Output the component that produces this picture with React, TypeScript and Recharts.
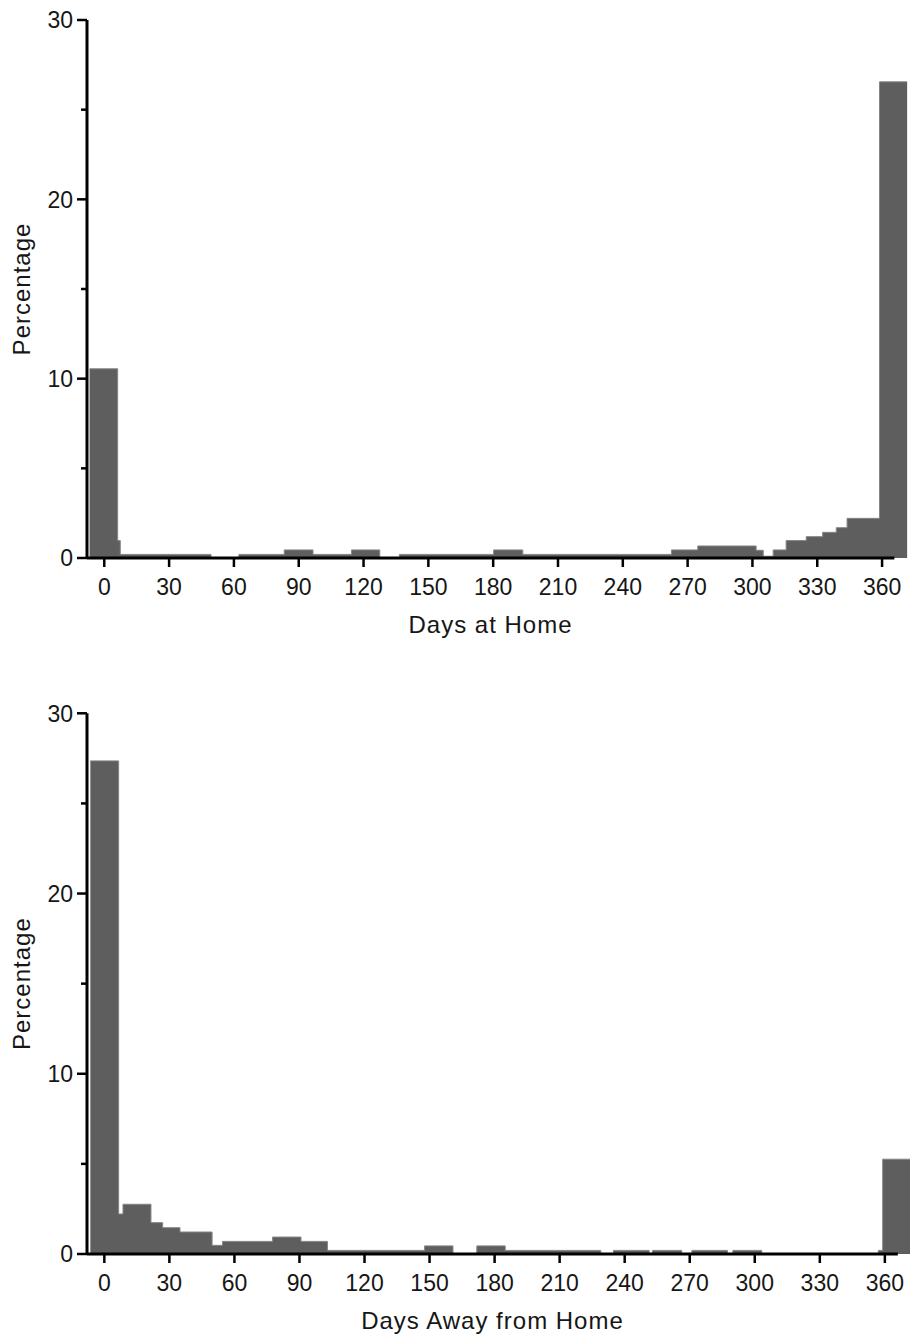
import { AreaChart, Area, XAxis, YAxis, ReferenceLine } from 'recharts';

// histogram steps: edges (days) and the percentage on each step
const homeEdges = [-6.8, 6.2, 7.4, 49.4, 62.3, 83.3, 96.6, 114.4, 127.5, 136.6, 180.2, 193.7, 262.5, 274.7, 301.7, 305, 309.6, 315.6, 324.9, 332.5, 338.8, 343.8, 358.8, 371.6];
const homePct = [10.55, 0.97, 0.2, 0, 0.2, 0.45, 0.2, 0.45, 0, 0.2, 0.45, 0.2, 0.45, 0.67, 0.43, 0.1, 0.45, 0.97, 1.19, 1.43, 1.69, 2.21, 26.55];

const awayEdges = [-6.45, 6.6, 8.6, 21.5, 26.9, 34.9, 49.7, 54.5, 77.6, 90.7, 102.9, 147.7, 160.8, 171.8, 184.9, 229, 234.8, 251.3, 252.8, 266.3, 271, 287.4, 289.9, 303.2, 357, 359, 371.6];
const awayPct = [27.36, 2.22, 2.76, 1.74, 1.46, 1.22, 0.48, 0.7, 0.94, 0.7, 0.2, 0.45, 0, 0.45, 0.2, 0, 0.2, 0, 0.2, 0, 0.2, 0, 0.2, 0, 0.2, 5.26];

const dayTicks = [0, 30, 60, 90, 120, 150, 180, 210, 240, 270, 300, 330, 360];
const pctTicks = [0, 5, 10, 15, 20, 25, 30];

const FONT = '"Liberation Sans", Arial, sans-serif';
const INK = '#161616';

const toSteps = (edges: number[], pct: number[]) =>
  edges.map((day, i) => ({ day, pct: pct[Math.min(i, pct.length - 1)] }));

const YTick = (props: any) => {
  const { x, y, payload } = props;
  const major = payload.value % 10 === 0;
  return (
    <g>
      <line x1={x - (major ? 10 : 6)} x2={x} y1={y} y2={y} stroke="#000" strokeWidth={2.5} />
      {major && (
        <text x={x - 14} y={y} dy="0.36em" textAnchor="end" fontSize={23} fontFamily={FONT} fill={INK}>
          {payload.value}
        </text>
      )}
    </g>
  );
};

const XTick = (props: any) => {
  const { x, y, payload } = props;
  return (
    <g>
      <line x1={x} x2={x} y1={y} y2={y + 9} stroke="#000" strokeWidth={2.5} />
      <text x={x} y={y + 37} textAnchor="middle" fontSize={23} fontFamily={FONT} fill={INK}>
        {payload.value}
      </text>
    </g>
  );
};

const xTitle = (text: string, shift: number) => (props: any) => {
  const vb = props.viewBox ?? { x: 87, y: 558, width: 820, height: 100 };
  return (
    <text x={vb.x + vb.width / 2 + shift} y={vb.y + 75} textAnchor="middle" fontSize={24} letterSpacing={1} fontFamily={FONT} fill={INK}>
      {text}
    </text>
  );
};

const yTitle = (props: any) => {
  const vb = props.viewBox ?? { x: 0, y: 20, width: 87, height: 538 };
  const cx = vb.x + 30;
  const cy = vb.y + vb.height / 2;
  return (
    <text x={cx} y={cy} transform={`rotate(-90, ${cx}, ${cy})`} textAnchor="middle" fontSize={24} letterSpacing={1} fontFamily={FONT} fill={INK}>
      Percentage
    </text>
  );
};

function Histogram({ data, height, top, plotH, right, maxDay, lineEnd, title, shift }: any) {
  return (
    <AreaChart width={910} height={height} data={data} margin={{ top, right, left: 0, bottom: 0 }}>
      <XAxis
        type="number"
        dataKey="day"
        domain={[-8, maxDay]}
        allowDataOverflow
        ticks={dayTicks}
        interval={0}
        axisLine={false}
        tickLine={false}
        tickSize={0}
        tickMargin={0}
        tick={<XTick />}
        height={height - top - plotH}
        label={xTitle(title, shift)}
      />
      <YAxis
        type="number"
        domain={[0, 30]}
        ticks={pctTicks}
        interval={0}
        width={87}
        axisLine={{ stroke: '#000', strokeWidth: 3 }}
        tickLine={false}
        tickSize={0}
        tickMargin={0}
        tick={<YTick />}
        label={yTitle}
      />
      <Area
        type="stepAfter"
        dataKey="pct"
        fill="#5e5e5e"
        fillOpacity={1}
        stroke="#858585"
        strokeWidth={1}
        dot={false}
        activeDot={false}
        isAnimationActive={false}
      />
      <ReferenceLine
        segment={[{ x: -8, y: 0 }, { x: lineEnd, y: 0 }]}
        stroke="#000"
        strokeWidth={3}
        ifOverflow="visible"
      />
    </AreaChart>
  );
}

export default function App() {
  return (
    <div style={{ position: 'absolute', left: 0, top: 0, width: 910, height: 1337, overflow: 'hidden', background: '#fff' }}>
      <div style={{ position: 'absolute', left: 0, top: 0 }}>
        <Histogram data={toSteps(homeEdges, homePct)} height={660} top={20} plotH={538} right={2} maxDay={372} lineEnd={365.7} title="Days at Home" shift={-7} />
      </div>
      <div style={{ position: 'absolute', left: 0, top: 690 }}>
        <Histogram data={toSteps(awayEdges, awayPct)} height={647} top={23.3} plotH={540.7} right={0} maxDay={371.6} lineEnd={366} title="Days Away from Home" shift={-6} />
      </div>
    </div>
  );
}
